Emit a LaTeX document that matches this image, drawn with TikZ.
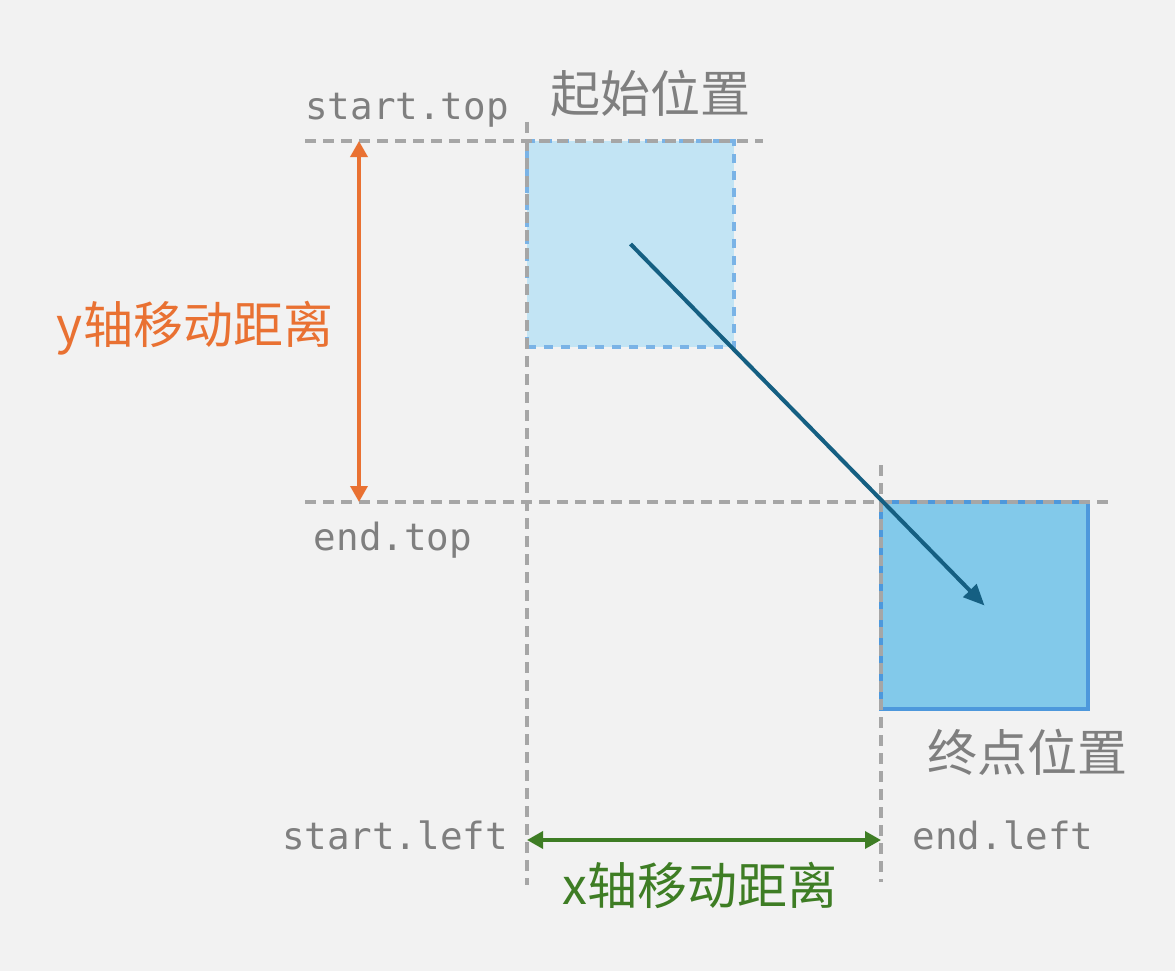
\documentclass[tikz,border=0pt]{standalone}
\usepackage{fontspec}
\setmonofont{DejaVu Sans Mono}
\newfontfamily\cjk{Noto Sans CJK SC}
\usetikzlibrary{arrows.meta}
\definecolor{bg}{HTML}{F2F2F2}
\definecolor{guide}{HTML}{A6A6A6}
\definecolor{lbl}{HTML}{7F7F7F}
\definecolor{startfill}{HTML}{C2E4F4}
\definecolor{startline}{HTML}{7AB3E6}
\definecolor{endfill}{HTML}{82C9EA}
\definecolor{endline}{HTML}{4D98DC}
\definecolor{movearrow}{HTML}{155F82}
\definecolor{ycol}{HTML}{E97132}
\definecolor{xcol}{HTML}{3E7D24}
\tikzset{
  guideline/.style={draw=guide, line width=4pt, dash pattern=on 11pt off 7pt},
  monolabel/.style={inner sep=0pt, text=lbl, font=\ttfamily\fontsize{37.5}{44}\selectfont},
  cjklabel/.style={inner sep=0pt, font=\cjk\fontsize{50}{60}\selectfont},
  dimarrow/.style={line width=3.5pt, {Triangle[length=16pt,width=17pt]}-{Triangle[length=16pt,width=17pt]}},
}
\begin{document}
\begin{tikzpicture}[x=1pt,y=-1pt]
\fill[bg] (0,0) rectangle (1175,971);
\useasboundingbox (0,0) rectangle (1175,971);
% boxes
\node[draw=startline, fill=startfill, line width=4pt, dash pattern=on 9pt off 8pt,
      minimum width=207pt, minimum height=206pt, inner sep=0pt] (start) at (630.5,244) {};
\node[draw=endline, fill=endfill, line width=4.5pt,
      minimum width=207pt, minimum height=207pt, inner sep=0pt] (end) at (984.5,605.5) {};
% guide coordinates
\coordinate (sv1) at (527,122);
\coordinate (sv2) at (527,885);
\coordinate (sh1) at (305,141);
\coordinate (sh2) at (763,141);
\coordinate (eh1) at (305,502);
\coordinate (eh2) at (1115,502);
\coordinate (ev1) at (881,465);
\coordinate (ev2) at (881,882);
\draw[guideline] (sh1) -- (sh2);
\draw[guideline] (eh1) -- (eh2);
\draw[guideline] (sv1) -- (sv2);
\draw[guideline] (ev1) -- (ev2);
% movement arrow
\draw[movearrow, line width=4pt, -{Triangle[length=21pt,width=18pt]}] (start.center) -- (end.center);
% dimension arrows
\coordinate (ya) at (359,141);
\coordinate (yb) at (359,502);
\coordinate (xa) at (527,840);
\coordinate (xb) at (881,840);
\draw[dimarrow, ycol] (ya) -- (yb);
\draw[dimarrow, xcol] (xa) -- (xb);
% labels
\node[monolabel, anchor=base] (lst) at (407,120) {start.top};
\node[monolabel, anchor=base] (let) at (393,550) {end.top};
\node[monolabel, anchor=base] (lsl) at (395,849) {start.left};
\node[monolabel, anchor=base] (lel) at (1003,849) {end.left};
\node[cjklabel, text=lbl] (tstart) at (650,94) {起始位置};
\node[cjklabel, text=lbl] (tend) at (1027,752) {终点位置};
\node[cjklabel, text=ycol] (ty) at (195,328) {y轴移动距离};
\node[cjklabel, text=xcol] (tx) at (700,885) {x轴移动距离};
\end{tikzpicture}
\end{document}
